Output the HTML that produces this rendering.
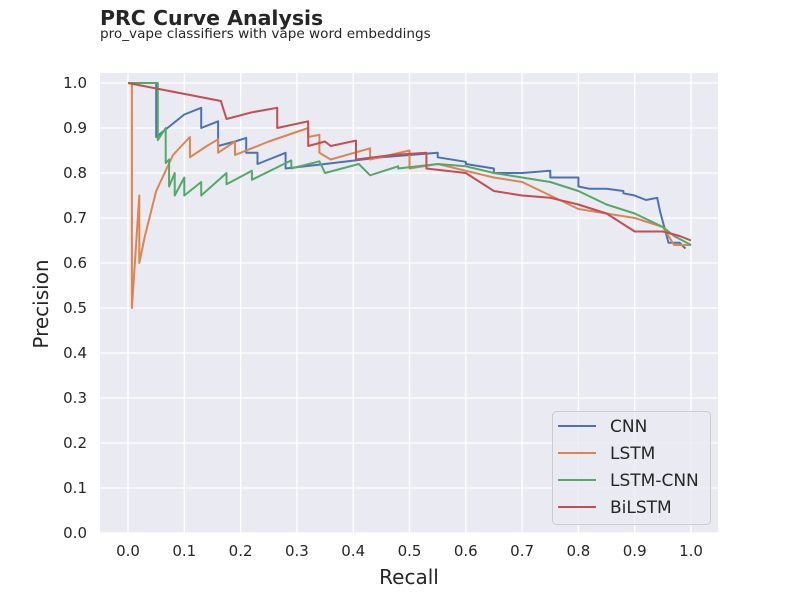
<!DOCTYPE html>
<html><head><meta charset="utf-8"><style>
body{margin:0;background:#fff;width:800px;height:600px;overflow:hidden;font-family:"DejaVu Sans","Liberation Sans",sans-serif;}
</style></head><body>
<svg id="chart" width="800" height="600" xmlns="http://www.w3.org/2000/svg" font-family="DejaVu Sans, Liberation Sans, sans-serif">
<text x="100" y="25" font-size="20.5" font-weight="bold" fill="#262626">PRC Curve Analysis</text>
<text x="100" y="38" font-size="13.6" fill="#262626">pro_vape classifiers with vape word embeddings</text>
<rect x="100" y="73" width="618" height="460" fill="#eaeaf2"/>
<g id="grid"></g>
<g id="series"></g>
<g id="ticks"></g>
<text x="409" y="584" font-size="20" fill="#262626" text-anchor="middle">Recall</text>
<text transform="translate(48,304) rotate(-90)" font-size="20" fill="#262626" text-anchor="middle">Precision</text>
<g id="legend">
<rect x="552.5" y="411.5" width="158" height="113" rx="4" fill="#eaeaf2" fill-opacity="0.8" stroke="#cccccc"/>
</g>
</svg>
<script>
const xTicks=[0,0.1,0.2,0.3,0.4,0.5,0.6,0.7,0.8,0.9,1.0];
const yTicks=[0,0.1,0.2,0.3,0.4,0.5,0.6,0.7,0.8,0.9,1.0];
const seriesNames=["CNN","LSTM","LSTM-CNN","BiLSTM"];
const seriesColors=["#4c72b0","#dd8452","#55a868","#c44e52"];
const cnnRecall=[0,0.05,0.05,0.07,0.1,0.13,0.13,0.16,0.16,0.19,0.21,0.21,0.23,0.23,0.25,0.28,0.28,0.35,0.45,0.55,0.55,0.6,0.6,0.65,0.65,0.7,0.75,0.75,0.8,0.8,0.82,0.85,0.88,0.88,0.9,0.92,0.94,0.945,0.96,0.98,0.99];
const cnnPrec=[1,1,0.88,0.9,0.93,0.945,0.9,0.915,0.86,0.87,0.878,0.845,0.845,0.82,0.83,0.845,0.81,0.82,0.835,0.845,0.835,0.825,0.82,0.81,0.8,0.8,0.805,0.79,0.79,0.77,0.765,0.765,0.76,0.755,0.75,0.74,0.745,0.715,0.645,0.645,0.632];
const lstmRecall=[0,0.007,0.007,0.02,0.02,0.03,0.05,0.08,0.11,0.11,0.14,0.16,0.16,0.19,0.19,0.25,0.32,0.32,0.34,0.34,0.36,0.43,0.43,0.5,0.5,0.55,0.6,0.65,0.7,0.75,0.8,0.85,0.9,0.95,0.97,1.0];
const lstmPrec=[1,1,0.5,0.75,0.6,0.66,0.76,0.84,0.88,0.835,0.86,0.875,0.845,0.87,0.84,0.87,0.9,0.88,0.885,0.845,0.83,0.855,0.83,0.85,0.81,0.82,0.805,0.79,0.78,0.75,0.72,0.71,0.70,0.68,0.64,0.64];
const lcnnRecall=[0,0.053,0.053,0.067,0.067,0.073,0.073,0.083,0.083,0.1,0.1,0.13,0.13,0.175,0.175,0.22,0.22,0.29,0.29,0.34,0.35,0.41,0.43,0.48,0.48,0.55,0.6,0.65,0.7,0.75,0.8,0.85,0.9,0.95,0.97,1.0];
const lcnnPrec=[1,1,0.873,0.9,0.822,0.83,0.77,0.8,0.75,0.79,0.75,0.78,0.75,0.8,0.775,0.805,0.785,0.828,0.81,0.826,0.8,0.82,0.795,0.815,0.81,0.82,0.815,0.8,0.79,0.78,0.76,0.73,0.71,0.68,0.66,0.64];
const biRecall=[0,0.165,0.175,0.22,0.265,0.265,0.32,0.32,0.35,0.36,0.405,0.405,0.47,0.53,0.53,0.6,0.65,0.7,0.75,0.8,0.85,0.9,0.95,0.98,1.0];
const biPrec=[1,0.96,0.92,0.935,0.945,0.9,0.915,0.86,0.87,0.86,0.872,0.83,0.84,0.845,0.81,0.8,0.76,0.75,0.745,0.73,0.71,0.67,0.67,0.66,0.65];
const allRecall=[cnnRecall,lstmRecall,lcnnRecall,biRecall];
const allPrec=[cnnPrec,lstmPrec,lcnnPrec,biPrec];

const NS="http://www.w3.org/2000/svg";
function sx(v){return 128+v*563;}
function sy(v){return 533-v*450;}
function mk(tag,attrs,parent){const e=document.createElementNS(NS,tag);for(const k in attrs)e.setAttribute(k,attrs[k]);parent.appendChild(e);return e;}
const grid=document.getElementById('grid'),ticks=document.getElementById('ticks'),series=document.getElementById('series'),legend=document.getElementById('legend');
xTicks.forEach(t=>{
  const l=mk('line',{x1:sx(t),x2:sx(t),y1:73,y2:533,stroke:'#fff','stroke-width':1.3},grid);
  
  
  const tx=mk('text',{x:sx(t),y:556,'font-size':15,fill:'#262626','text-anchor':'middle'},ticks);
  tx.textContent=t.toFixed(1);
  
  
});
yTicks.forEach(t=>{
  const l=mk('line',{x1:100,x2:718,y1:sy(t),y2:sy(t),stroke:'#fff','stroke-width':1.3},grid);
  
  
  const tx=mk('text',{x:87,y:sy(t)+5,'font-size':15,fill:'#262626','text-anchor':'end'},ticks);
  tx.textContent=t.toFixed(1);
  
  
});
seriesNames.forEach((n,i)=>{
  const pts=allRecall[i].map((r,j)=>sx(r).toFixed(1)+','+sy(allPrec[i][j]).toFixed(1)).join(' ');
  const p=mk('polyline',{points:pts,fill:'none',stroke:seriesColors[i],'stroke-width':2,'stroke-linejoin':'round'},series);
  
  
  const y=426+i*27;
  const ll=mk('line',{x1:558,x2:596,y1:y,y2:y,stroke:seriesColors[i],'stroke-width':2},legend);
  
  
  const lt=mk('text',{x:610,y:y+6,'font-size':17,fill:'#262626'},legend);
  lt.textContent=n;
  
  
});
</script>
</body></html>
